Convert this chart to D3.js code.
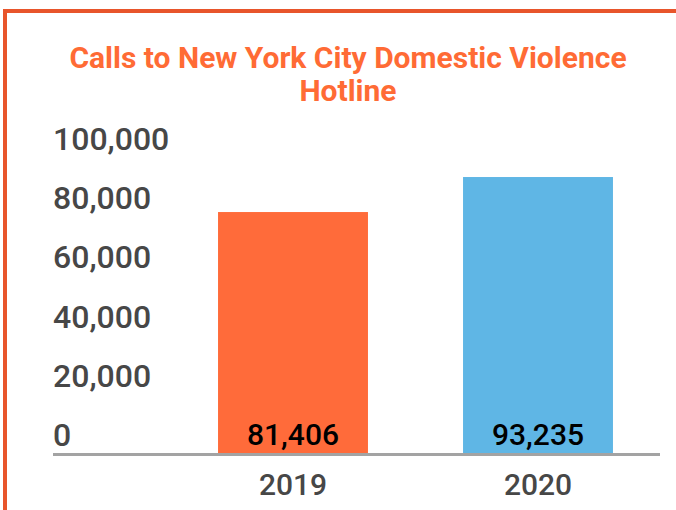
<!DOCTYPE html>
<html><head><meta charset="utf-8">
<script src="https://cdn.jsdelivr.net/npm/d3@7"></script>
<style>html,body{margin:0;padding:0;background:#fff;}svg{display:block;}</style>
</head><body>
<script>
const categories = ["2019", "2020"];
const values = [81406, 93235];
const yTicks = [0, 20000, 40000, 60000, 80000, 100000];
const titleLines = ["Calls to New York City Domestic Violence", "Hotline"];
const barColors = ["#FF6B3A", "#5FB6E5"];

const W = 676, H = 510;
const svg = d3.select("body").append("svg").attr("width", W).attr("height", H);

// frame
svg.append("rect").attr("x", 5).attr("y", 11).attr("width", W + 20).attr("height", H + 20)
  .attr("fill", "none").attr("stroke", "#E8552B").attr("stroke-width", 4);

// title
svg.append("g").selectAll("text").data(titleLines).join("text")
  .attr("x", 348).attr("y", (d, i) => 68 + i * 33)
  .attr("text-anchor", "middle")
  .attr("font-family", "Roboto").attr("font-weight", 700).attr("font-size", 30)
  .attr("fill", "#FF6B35")
  .text(d => d);

const x = d3.scaleBand().domain(categories).range([170.5, 660.5])
  .paddingInner(0.388).paddingOuter(0.194);
const y = d3.scaleLinear().domain([0, 100000]).range([453, 157]);

// y labels
const fmt = d3.format(",");
svg.append("g").selectAll("text").data(yTicks).join("text")
  .attr("x", 53).attr("y", d => y(d) - 7)
  .attr("font-family", "Roboto").attr("font-weight", 500).attr("font-size", 32)
  .attr("fill", "#474747")
  .text(d => fmt(d));

// bars
svg.append("g").selectAll("rect").data(values).join("rect")
  .attr("x", (d, i) => x(categories[i]))
  .attr("width", x.bandwidth())
  .attr("y", d => y(d))
  .attr("height", d => y(0) - y(d))
  .attr("fill", (d, i) => barColors[i]);

// baseline axis
const xAxis = svg.append("g").attr("transform", `translate(0,${y(0) + 1.5})`)
  .call(d3.axisBottom(x).tickSize(0).tickPadding(0));
xAxis.select(".domain").remove();
xAxis.insert("line", ":first-child").attr("x1", 53).attr("x2", 660).attr("y1", 0).attr("y2", 0)
  .attr("stroke", "#A3A3A3").attr("stroke-width", 3);
xAxis.selectAll(".tick text")
  .attr("y", 40.5).attr("dy", 0)
  .attr("font-family", "Roboto").attr("font-weight", 500).attr("font-size", 30)
  .attr("fill", "#474747");

// value labels
svg.append("g").selectAll("text").data(values).join("text")
  .attr("x", (d, i) => x(categories[i]) + x.bandwidth() / 2)
  .attr("y", 445)
  .attr("text-anchor", "middle")
  .attr("font-family", "Roboto").attr("font-weight", 500).attr("font-size", 30)
  .attr("fill", "#000")
  .text(d => fmt(d));
</script>
</body></html>
